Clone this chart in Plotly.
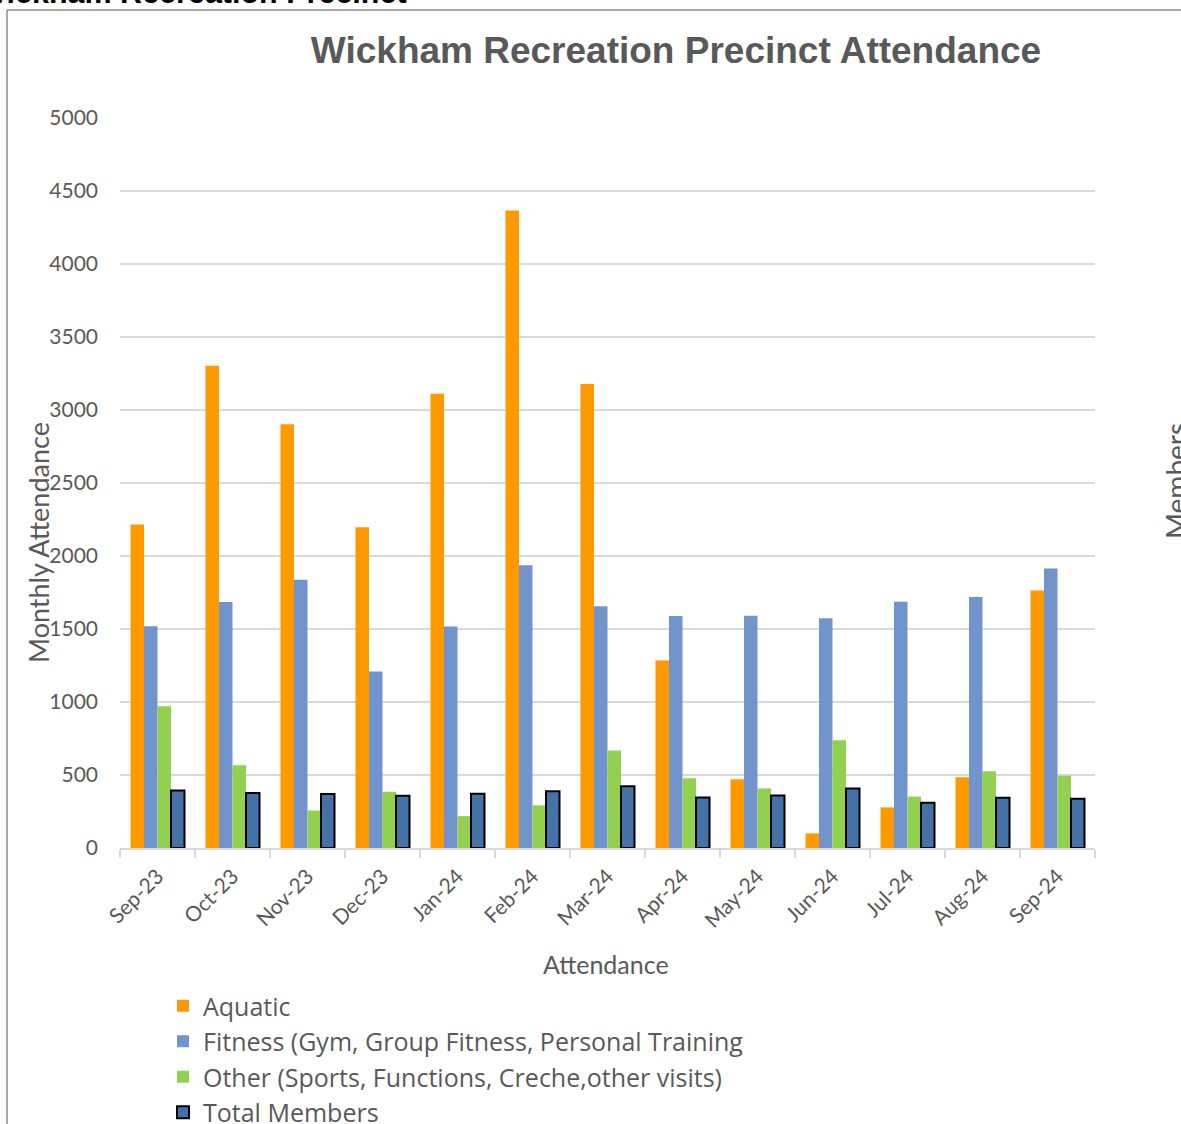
import plotly.graph_objects as go

months = ["Sep-23", "Oct-23", "Nov-23", "Dec-23", "Jan-24", "Feb-24", "Mar-24",
          "Apr-24", "May-24", "Jun-24", "Jul-24", "Aug-24", "Sep-24"]
aquatic = [2215, 3302, 2900, 2195, 3109, 4364, 3177, 1284, 470, 100, 278, 484, 1762]
fitness = [1518, 1684, 1836, 1209, 1516, 1936, 1655, 1588, 1590, 1572, 1686, 1718, 1914]
other = [970, 567, 257, 385, 218, 292, 667, 477, 408, 738, 352, 526, 494]
members = [394, 376, 369, 358, 371, 389, 423, 346, 360, 408, 310, 344, 337]

series_names = ["Aquatic",
                "Fitness (Gym, Group Fitness, Personal Training",
                "Other (Sports, Functions, Creche,other visits)",
                "Total Members"]

FONT = "Lato, 'Open Sans', sans-serif"
LEGFONT = "'Open Sans', Lato, sans-serif"
GREY = "#595959"

fig = go.Figure()
fig.add_trace(go.Bar(x=months, y=aquatic, name=series_names[0],
                     marker=dict(color="#FF9900", line=dict(width=0))))
fig.add_trace(go.Bar(x=months, y=fitness, name=series_names[1],
                     marker=dict(color="#7294CC", line=dict(width=0))))
fig.add_trace(go.Bar(x=months, y=other, name=series_names[2],
                     marker=dict(color="#92D050", line=dict(width=0))))
fig.add_trace(go.Bar(x=months, y=members, name=series_names[3],
                     marker=dict(color="#4471A6", line=dict(width=2, color="#000000"))))

# plot-area pixel geometry
L, R, T, B = 120, 1095, 117, 848
W, H = 1181, 1124
def px(x):
    return (x - L) / (R - L)
def py(y):
    return (B - y) / (B - T)

fig.update_layout(
    width=W, height=H,
    margin=dict(l=L, r=W - R, t=T, b=H - B, autoexpand=False),
    paper_bgcolor="white", plot_bgcolor="white",
    barmode="group", bargap=0.28, bargroupgap=0,
    font=dict(family=FONT, color=GREY),
    title=dict(text="<b>Wickham Recreation Precinct Attendance</b>",
               font=dict(family="'Liberation Sans', Arial, sans-serif", size=37, color=GREY),
               x=676 / W, xanchor="center", y=1 - 50 / H, yanchor="middle"),
    showlegend=True,
    legend=dict(x=px(163), xanchor="left", y=py(983), yanchor="top",
                font=dict(family=LEGFONT, size=25, color=GREY),
                bgcolor="rgba(0,0,0,0)", tracegroupgap=0, itemwidth=30),
    xaxis=dict(showgrid=False, showline=True, linecolor="#D9D9D9", linewidth=1.5,
               ticks="outside", tickson="boundaries", ticklen=8, tickcolor="#D9D9D9",
               tickwidth=1.5, tickangle=-45, ticklabelstandoff=6,
               tickfont=dict(family=FONT, size=21, color=GREY)),
    yaxis=dict(range=[0, 5004], tickvals=list(range(0, 5001, 500)), showgrid=True,
               gridcolor="#D9D9D9", gridwidth=1.5, zeroline=False, showline=False,
               tickfont=dict(family=FONT, size=21, color=GREY), ticklabelstandoff=21),
)

annotations = [
    dict(text="Monthly Attendance", textangle=-90, x=px(38), y=py(543),
         xref="paper", yref="paper", showarrow=False, xanchor="center", yanchor="middle",
         font=dict(family=FONT, size=27, color=GREY)),
    dict(text="Attendance", x=px(606), y=py(964),
         xref="paper", yref="paper", showarrow=False, xanchor="center", yanchor="middle",
         font=dict(family=FONT, size=25, color=GREY)),
    dict(text="Members", textangle=-90, x=px(1176), y=py(481),
         xref="paper", yref="paper", showarrow=False, xanchor="center", yanchor="middle",
         font=dict(family=FONT, size=28, color=GREY)),
    dict(text="<b>Wickham Recreation Precinct</b>", x=px(-24), y=py(-8),
         xref="paper", yref="paper", showarrow=False, xanchor="left", yanchor="middle",
         font=dict(family="'Liberation Sans', Arial, sans-serif", size=30.5, color="#000000")),
]
fig.update_layout(annotations=annotations)

fig.update_layout(shapes=[
    dict(type="line", xref="paper", yref="paper", x0=px(7), x1=px(1185), y0=py(10), y1=py(10),
         line=dict(color="#8C8C8C", width=1.5)),
    dict(type="line", xref="paper", yref="paper", x0=px(7), x1=px(7), y0=py(10), y1=py(1130),
         line=dict(color="#8C8C8C", width=1.5)),
])

fig.write_html("out.html", config={"displayModeBar": False},
               post_script="document.body.style.margin='0';document.body.style.overflow='hidden';")
